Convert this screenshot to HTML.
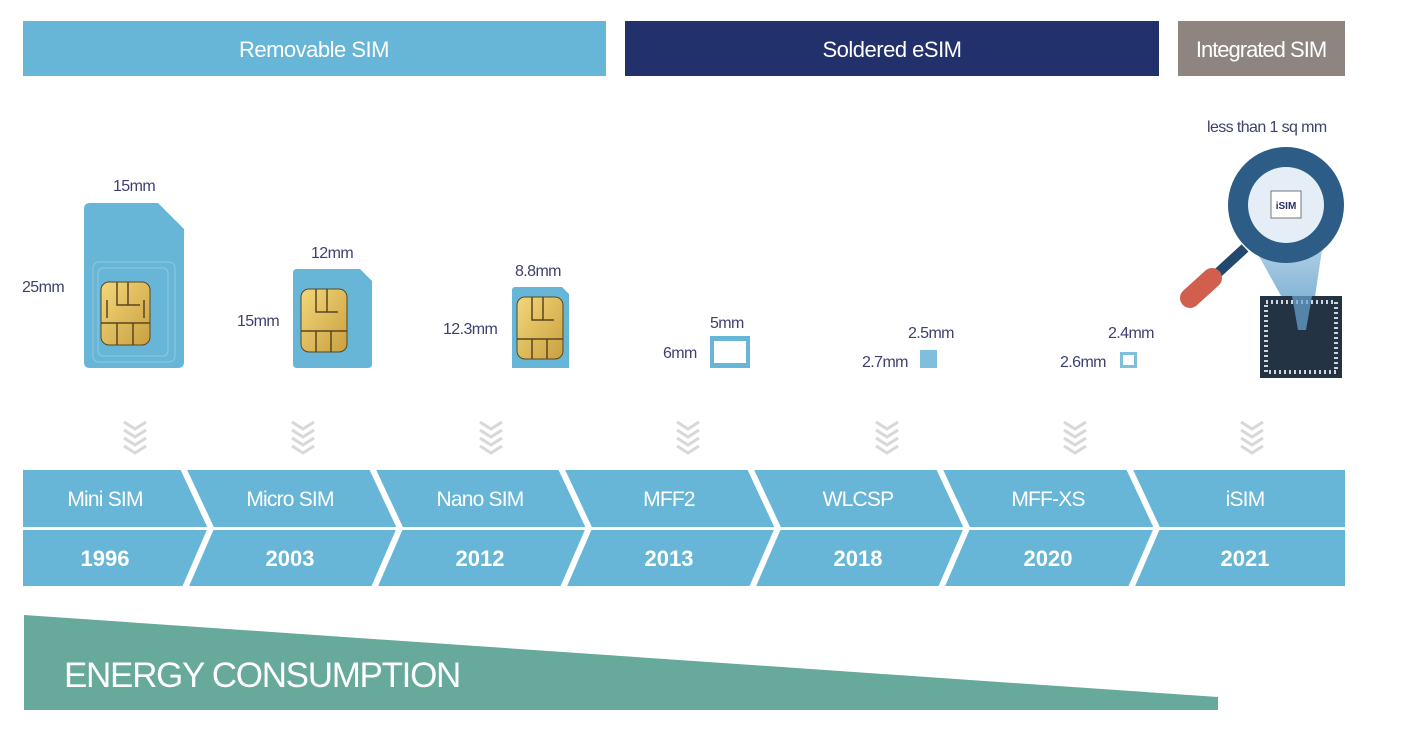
<!DOCTYPE html>
<html><head><meta charset="utf-8"><style>
body{margin:0;background:#fff;}
svg{display:block;font-family:"Liberation Sans",sans-serif;}
.lbl{fill:#3d4170;font-size:16px;letter-spacing:-0.6px;}
.ct{fill:none;stroke:#5a4520;stroke-width:1.5;}
</style></head><body>
<svg width="1408" height="736" viewBox="0 0 1408 736">
<defs>
<linearGradient id="chipg" x1="0" y1="0" x2="1" y2="1"><stop offset="0" stop-color="#f3d77a"/><stop offset="1" stop-color="#c9a040"/></linearGradient>
<linearGradient id="beam" x1="0" y1="0" x2="0" y2="1"><stop offset="0" stop-color="#a9cde6"/><stop offset="1" stop-color="#4a8fc0"/></linearGradient>
</defs>
<g><rect x="23" y="21" width="583" height="55" fill="#67b6d8"/><text x="314" y="57" fill="#fff" font-size="22" text-anchor="middle" letter-spacing="-0.5">Removable SIM</text></g>
<g><rect x="625" y="21" width="534" height="55" fill="#22306b"/><text x="892" y="57" fill="#fff" font-size="22" text-anchor="middle" letter-spacing="-0.5">Soldered eSIM</text></g>
<g><rect x="1178" y="21" width="167" height="55" fill="#8e8580"/><text x="1261" y="57" fill="#fff" font-size="22" text-anchor="middle" letter-spacing="-1">Integrated SIM</text></g>

<g>
<path d="M90 203 H158 L184 229 V362 Q184 368 178 368 H90 Q84 368 84 362 V209 Q84 203 90 203Z" fill="#67b6d8"/>
<rect x="93" y="262" width="82" height="100" rx="6" fill="none" stroke="#8ecbe4" stroke-width="1"/>
<rect x="98" y="268" width="70" height="88" rx="5" fill="none" stroke="#8ecbe4" stroke-width="1"/>
<rect x="101" y="282" width="49" height="63" rx="8" fill="url(#chipg)" stroke="#5a4520"/>
<path class="ct" d="M117 282 V305 H140 M128 282 V305 M101 323 H150 M117 323 V345 M133 323 V345 M107 300 V318 M144 300 V318"/>
<text x="113" y="191" class="lbl">15mm</text><text x="22" y="292" class="lbl">25mm</text></g>
<g>
<path d="M297 269 H360 L372 281 V364 Q372 368 368 368 H297 Q293 368 293 364 V273 Q293 269 297 269Z" fill="#67b6d8"/>
<rect x="301" y="289" width="46" height="63" rx="8" fill="url(#chipg)" stroke="#5a4520"/>
<path class="ct" d="M316 289 V312 H338 M327 289 V312 M301 331 H347 M316 331 V352 M331 331 V352"/>
<text x="311" y="258" class="lbl">12mm</text><text x="237" y="326" class="lbl">15mm</text></g>
<g>
<path d="M514 287 H562 L569 294 V368 H512 V289Z" fill="#67b6d8"/>
<rect x="517" y="297" width="46" height="62" rx="8" fill="url(#chipg)" stroke="#5a4520"/>
<path class="ct" d="M532 297 V320 H554 M543 297 V320 M517 339 H563 M532 339 V359 M547 339 V359"/>
<text x="515" y="276" class="lbl">8.8mm</text><text x="443" y="334" class="lbl">12.3mm</text></g>
<g>
<rect x="710" y="336" width="40" height="32" fill="#67b6d8"/><rect x="714" y="341" width="32" height="22" fill="#fff"/>
<text x="710" y="328" class="lbl">5mm</text><text x="663" y="358" class="lbl">6mm</text></g>
<g>
<rect x="920" y="350" width="17" height="18" fill="#7fbfdd"/>
<text x="908" y="338" class="lbl">2.5mm</text><text x="862" y="367" class="lbl">2.7mm</text></g>
<g>
<rect x="1120" y="352" width="17" height="16" fill="#7fbfdd"/><rect x="1123" y="355" width="11" height="10" fill="#fff"/>
<text x="1108" y="338" class="lbl">2.4mm</text><text x="1060" y="367" class="lbl">2.6mm</text></g>

<g>
<text x="1207" y="132" class="lbl">less than 1 sq mm</text>
<polygon points="1250,240 1325,230 1310,330 1300,330" fill="url(#beam)" opacity="0.8"/>
<line x1="1245" y1="248" x2="1208" y2="282" stroke="#22486e" stroke-width="10"/>
<line x1="1212" y1="278" x2="1190" y2="298" stroke="#d25f4d" stroke-width="20" stroke-linecap="round"/>
<rect x="1260" y="296" width="82" height="82" fill="#243344"/>
<rect x="1266" y="302" width="70" height="70" fill="none" stroke="#cfd6de" stroke-width="4" stroke-dasharray="2 3"/>
<polygon points="1292,296 1312,296 1306,330 1298,330" fill="#6aa7d3" opacity="0.7"/>
<circle cx="1286" cy="205" r="58" fill="#2d5c86"/>
<circle cx="1286" cy="205" r="38" fill="#e5eef6"/>
<rect x="1271" y="191" width="30" height="27" fill="#fff" stroke="#777"/>
<text x="1286" y="209" font-size="10" font-weight="bold" fill="#22306b" text-anchor="middle">iSIM</text></g>

<g fill="none" stroke="#d8d8d8" stroke-width="3">
<path id="chev" d="M124 422 L135 429 L146 422 M124 430 L135 437 L146 430 M124 438 L135 445 L146 438 M124 446 L135 453 L146 446"/>
<use href="#chev" x="168"/><use href="#chev" x="356"/><use href="#chev" x="553"/><use href="#chev" x="752"/><use href="#chev" x="940"/><use href="#chev" x="1117"/>
</g>

<g>
<rect x="23" y="470" width="1322" height="57" fill="#67b6d8"/>
<rect x="23" y="530" width="1322" height="56" fill="#67b6d8"/>
<g stroke="#fff" stroke-width="6" fill="none">
<path d="M183 468 L211 528 L185 588"/><path d="M372 468 L400 528 L374 588"/><path d="M561 468 L589 528 L563 588"/>
<path d="M750 468 L778 528 L752 588"/><path d="M939 468 L967 528 L941 588"/><path d="M1129 468 L1157 528 L1131 588"/>
</g>
<g fill="#fff" font-size="21" text-anchor="middle" letter-spacing="-0.8">
<text x="105" y="506">Mini SIM</text>
<text x="290" y="506">Micro SIM</text>
<text x="480" y="506">Nano SIM</text>
<text x="669" y="506">MFF2</text>
<text x="858" y="506">WLCSP</text>
<text x="1048" y="506">MFF-XS</text>
<text x="1245" y="506">iSIM</text>
</g>
<g fill="#fff" font-size="22" font-weight="bold" text-anchor="middle">
<text x="105" y="566">1996</text>
<text x="290" y="566">2003</text>
<text x="480" y="566">2012</text>
<text x="669" y="566">2013</text>
<text x="858" y="566">2018</text>
<text x="1048" y="566">2020</text>
<text x="1245" y="566">2021</text>
</g></g>

<g>
<polygon points="24,615 1218,697 1218,710 24,710" fill="#67a99a"/>
<text x="64" y="687" fill="#fff" font-size="35" letter-spacing="-1.3">ENERGY CONSUMPTION</text>
</g>
</svg>
</body></html>
